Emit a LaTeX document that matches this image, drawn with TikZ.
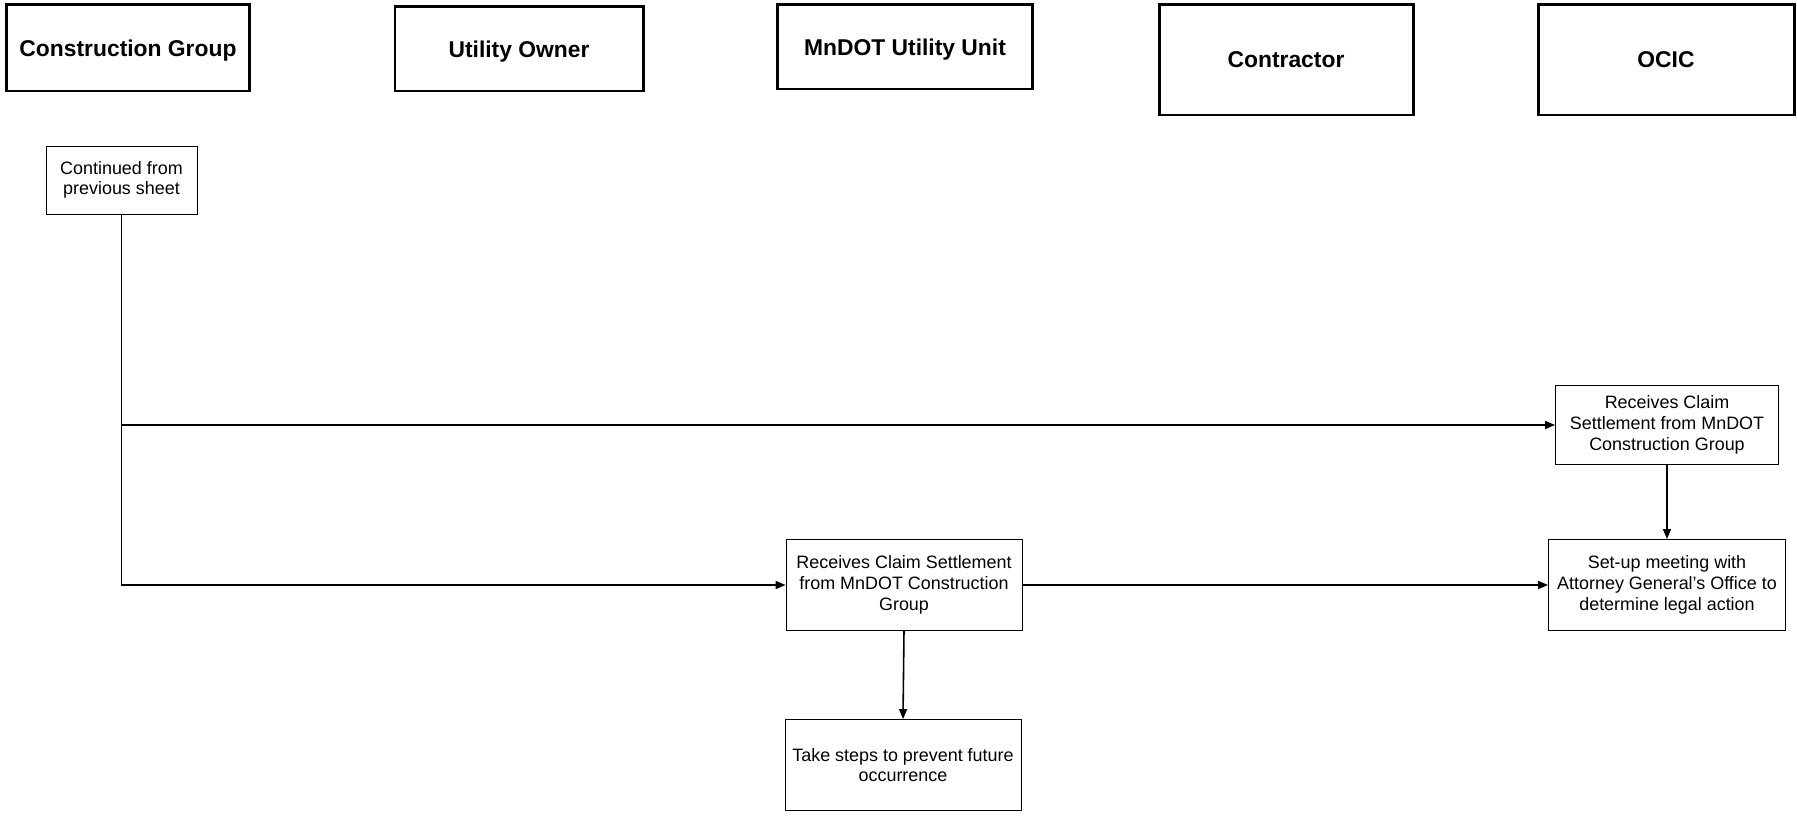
\documentclass[tikz,border=0pt]{standalone}
\usepackage{fontspec}
\setmainfont{Liberation Sans}
\usetikzlibrary{arrows.meta}

\begin{document}
\begin{tikzpicture}[
        x=0.2mm, y=-0.2mm,
        lane/.style={rectangle, draw, line width=1.7pt, inner sep=0pt, text depth=0pt, font=\fontsize{13}{15}\selectfont\bfseries},
        task/.style={rectangle, draw, line width=0.5pt, inner sep=0pt, align=center, font=\fontsize{10.2}{11.8}\selectfont},
        flow/.style={line width=0.9pt, -{Triangle[length=2mm, width=1.6mm]}}
      ]
      \useasboundingbox (0,0) rectangle (1797,817);
      % lane headers
      \node[lane, minimum width=4.86cm, minimum height=1.72cm] (group) at (128,48) {Construction Group};
      \node[lane, minimum width=4.96cm, minimum height=1.68cm] (owner) at (519,49) {Utility Owner};
      \node[lane, minimum width=5.10cm, minimum height=1.68cm] (unit) at (905,47) {MnDOT Utility Unit};
      \node[lane, minimum width=5.08cm, minimum height=2.20cm] (contractor) at (1286,60) {Contractor};
      \node[lane, minimum width=5.12cm, minimum height=2.20cm] (ocic) at (1666,60) {OCIC};
      % steps
      \node[task, minimum width=3.02cm, minimum height=1.36cm] (cont) at (121.5,180) {Continued from\\previous sheet};
      \node[task, minimum width=4.46cm, minimum height=1.58cm] (recv1) at (1667,425) {Receives Claim\\Settlement from MnDOT\\Construction Group};
      \node[task, minimum width=4.72cm, minimum height=1.82cm] (recv2) at (904,585) {Receives Claim Settlement\\from MnDOT Construction\\Group};
      \node[task, minimum width=4.74cm, minimum height=1.82cm] (meet) at (1667,585) {Set-up meeting with\\Attorney General's Office to\\determine legal action};
      \node[task, minimum width=4.72cm, minimum height=1.82cm] (take) at (903,765) {Take steps to prevent future\\occurrence};
      % connectors
      \coordinate (fork) at (cont.south |- recv1.west);
      \draw[flow] (cont.south) |- (recv2.west);
      \draw[flow] (fork) -- (recv1.west);
      \draw[flow] (recv2.east) -- (meet.west);
      \draw[flow] (recv1.south) -- (meet.north);
      \draw[flow] (recv2.south) -- (take.north);
    \end{tikzpicture}
\end{document}
